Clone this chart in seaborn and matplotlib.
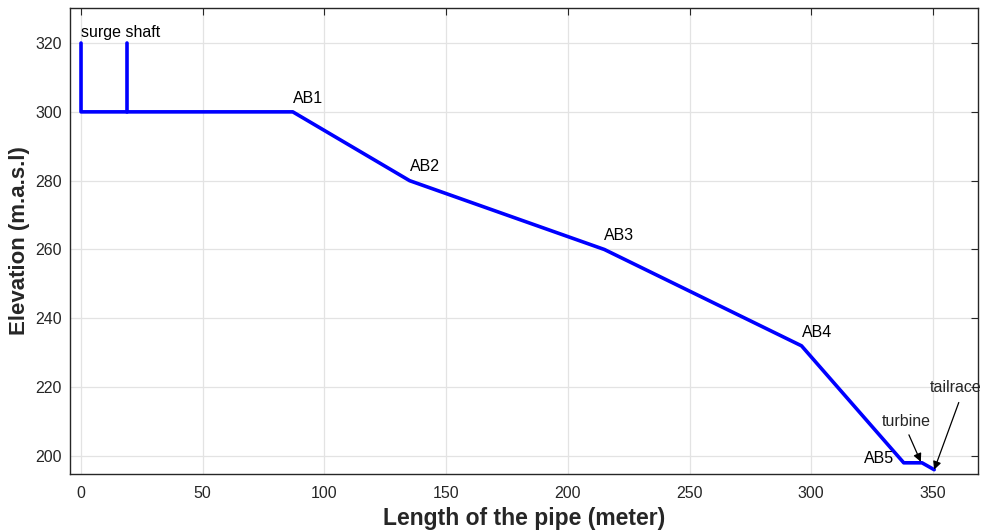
import matplotlib
matplotlib.use("Agg")
import matplotlib.pyplot as plt
import seaborn as sns
import pandas as pd

# Data
profile_x = [0, 0, 19, 87, 135, 215, 296, 338, 345.5, 350.5]
profile_y = [320, 300, 300, 300, 280, 260, 232, 198, 198, 196]
shaft_x = [19, 19]
shaft_y = [300, 320]
labels = ["AB1", "AB2", "AB3", "AB4"]
label_x = [87, 135, 215, 296]
label_y = [300, 280, 260, 232]

sns.set_theme(style="whitegrid")
plt.rcParams['font.family'] = ['Liberation Sans', 'DejaVu Sans']

fig = plt.figure(figsize=(9.84, 5.30), dpi=100)
ax = fig.add_axes([0.0712, 0.106, 0.9227, 0.879])

prof = pd.DataFrame({"x": profile_x, "y": profile_y})
shaft = pd.DataFrame({"x": shaft_x, "y": shaft_y})
sns.lineplot(data=prof, x="x", y="y", sort=False, estimator=None, color="#0000ff", lw=2.6, ax=ax)
sns.lineplot(data=shaft, x="x", y="y", sort=False, estimator=None, color="#0000ff", lw=2.6, ax=ax)

ax.set_xlim(-4.5, 368.5)
ax.set_ylim(194.8, 330.2)
ax.set_xticks([0, 50, 100, 150, 200, 250, 300, 350])
ax.set_yticks([200, 220, 240, 260, 280, 300, 320])

ax.grid(True, color="#e3e3e3", lw=0.9)
for s in ax.spines.values():
    s.set_color("#262626")
    s.set_linewidth(1.0)
ax.tick_params(axis="both", direction="in", length=5, width=0.8, color="#262626",
               top=True, right=True, labelsize=11.5, labelcolor="#262626")
ax.tick_params(axis="x", pad=9)
ax.tick_params(axis="y", pad=6)

ax.set_xlabel("Length of the pipe (meter)", fontsize=16.5, fontweight="bold", color="#262626", labelpad=4)
ax.set_ylabel("Elevation (m.a.s.l)", fontsize=16, fontweight="bold", color="#262626", labelpad=4)

ax.text(0, 321, "surge shaft", fontsize=11.5, color="black", ha="left", va="bottom")
for lab, lx, ly in zip(labels, label_x, label_y):
    ax.text(lx, ly + 1.8, lab, fontsize=11.5, color="black", ha="left", va="bottom")
ax.text(321.5, 197, "AB5", fontsize=11.5, color="black", ha="left", va="bottom")

ax.annotate("turbine", xy=(345, 198.3), xytext=(329, 210), fontsize=11.5,
            ha="left", va="center",
            arrowprops=dict(arrowstyle="-|>", color="black", lw=0.9, shrinkA=2, shrinkB=0,
                            mutation_scale=12, relpos=(0.5, 0)))
ax.annotate("tailrace", xy=(350.5, 196), xytext=(348.5, 219.8), fontsize=11.5,
            ha="left", va="center",
            arrowprops=dict(arrowstyle="-|>", color="black", lw=0.9, shrinkA=3, shrinkB=0,
                            mutation_scale=12, relpos=(0.62, 0)))

fig.savefig("out.png", dpi=100, facecolor="white")
